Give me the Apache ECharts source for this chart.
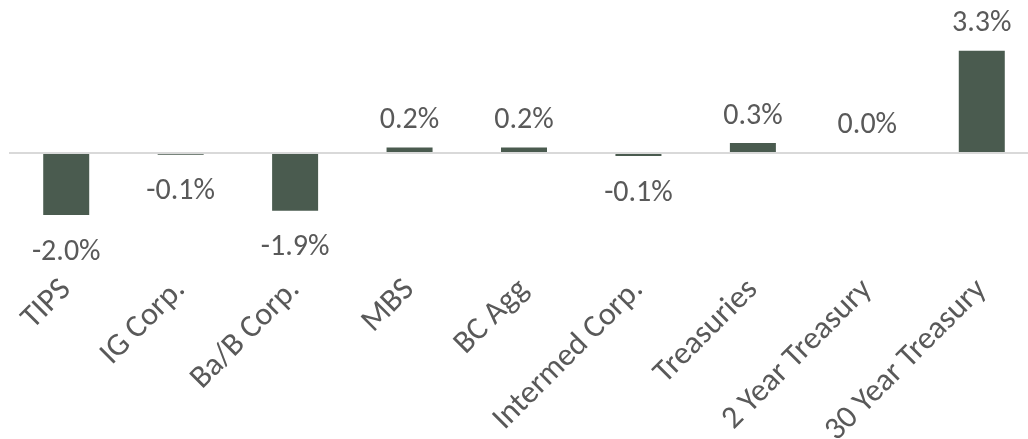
<!DOCTYPE html>
<html>
<head>
<meta charset="utf-8">
<script src="https://cdn.jsdelivr.net/npm/echarts@6/dist/echarts.min.js"></script>
<style>
  html, body { margin: 0; padding: 0; background: #fff; }
  #chart { width: 1028px; height: 439px; }
</style>
</head>
<body>
<div id="chart"></div>
<script>
const categories = ['TIPS', 'IG Corp.', 'Ba/B Corp.', 'MBS', 'BC Agg', 'Intermed Corp.', 'Treasuries', '2 Year Treasury', '30 Year Treasury']
const returns = [-2.0, -0.06, -1.86, 0.18, 0.18, -0.1, 0.32, 0.02, 3.3]

const textColor = '#595959'
const fontFamily = "Carlito, Calibri, 'Open Sans', sans-serif"

const chart = echarts.init(document.getElementById('chart'))

const option = {
  animation: false,
  grid: { left: 9, width: 1030, top: 29, height: 248, outerBoundsMode: 'none', containLabel: false },
  xAxis: {
    type: 'category',
    data: categories,
    axisLine: { show: false, onZero: false },
    axisTick: { show: false },
    axisLabel: {
      interval: 0,
      rotate: 45,
      margin: 8,
      color: textColor,
      fontSize: 32,
      fontFamily: fontFamily
    }
  },
  yAxis: {
    type: 'value',
    min: -4,
    max: 4,
    show: false,
    splitLine: { show: false }
  },
  series: [
    {
      type: 'bar',
      barWidth: 46,
      itemStyle: { color: '#4a5b4f' },
      label: {
        show: true,
        color: textColor,
        fontSize: 30,
        fontFamily: fontFamily,
        formatter: (p) => p.value.toFixed(1) + '%'
      },
      markLine: {
        silent: true,
        symbol: 'none',
        label: { show: false },
        lineStyle: { color: '#d9d9d9', width: 2, type: 'solid' },
        data: [{ yAxis: 0 }]
      },
      // negative bars get their label underneath
      data: returns.map((v) => ({
        value: v,
        label: v < 0 ? { position: 'bottom', distance: 22 } : { position: 'top', distance: 12 }
      }))
    }
  ]
}

chart.setOption(option)
</script>
</body>
</html>
